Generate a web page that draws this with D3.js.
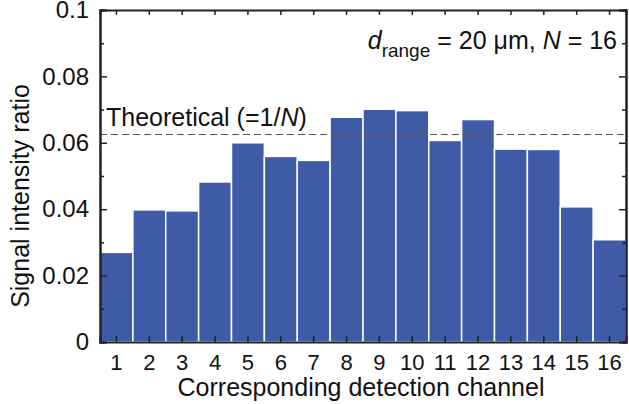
<!DOCTYPE HTML>
<html>
  <head>
    <title>Signal intensity ratio per detection channel</title>
    <style>
      html, body { margin: 0; padding: 0; background: #fff; }
      svg { display: block; font-family: "Liberation Sans", Arial, sans-serif; }
    </style>
  </head>
  <body>
    <svg width="629" height="404"></svg>
    <script src="https://d3js.org/d3.v7.min.js"></script>
    <script>
      var channels = ['1','2','3','4','5','6','7','8','9','10','11','12','13','14','15','16'];
      var ratios = [0.0270, 0.0398, 0.0395, 0.0482, 0.0600, 0.0559, 0.0547, 0.0677,
                    0.0701, 0.0697, 0.0607, 0.0670, 0.0581, 0.0580, 0.0407, 0.0308];
      var yMajor = [0, 0.02, 0.04, 0.06, 0.08, 0.1];
      var yMajorLabels = ['0', '0.02', '0.04', '0.06', '0.08', '0.1'];
      var yMinor = [0.01, 0.03, 0.05, 0.07, 0.09];
      var theoretical = 1 / 16;

      var mLeft = 100, mRight = 626, mTop = 10, mBottom = 342;
      var svg = d3.select('svg');

      var x = d3.scaleBand().domain(channels).range([ mLeft, mRight ]).padding(0);
      var y = d3.scaleLinear().domain([ 0, 0.1 ]).range([ mBottom, mTop ]);

      // bars
      svg.append('g')
        .selectAll('rect')
        .data(ratios)
        .enter()
        .append('rect')
          .attr('x', function(d, i) { return x(channels[i]); })
          .attr('y', function(d) { return y(d); })
          .attr('width', x.bandwidth())
          .attr('height', function(d) { return y(0) - y(d); })
          .attr('fill', '#3f5ba7')
          .attr('stroke', '#ffffff')
          .attr('stroke-width', 1.5);

      // theoretical line
      svg.append('line')
        .attr('x1', mLeft).attr('x2', mRight)
        .attr('y1', y(theoretical)).attr('y2', y(theoretical))
        .attr('stroke', '#555')
        .attr('stroke-width', 1.2)
        .attr('stroke-dasharray', '7,4');

      // axes with inward ticks
      var bottomAxis = d3.axisBottom(x).tickSize(-6).tickPadding(12);
      var topAxis = d3.axisTop(x).tickSize(-5).tickFormat('');
      var leftAxis = d3.axisLeft(y).tickValues(yMajor).tickSize(-7).tickPadding(11)
        .tickFormat(function(d, i) { return yMajorLabels[i]; });
      var rightAxis = d3.axisRight(y).tickValues(yMajor).tickSize(-7).tickFormat('');
      var leftMinor = d3.axisLeft(y).tickValues(yMinor).tickSize(-4).tickFormat('');
      var rightMinor = d3.axisRight(y).tickValues(yMinor).tickSize(-4).tickFormat('');

      function style(g, size) {
        g.attr('font-family', '"Liberation Sans", Arial, sans-serif');
        g.selectAll('path').attr('stroke', '#222').attr('stroke-width', 2);
        g.selectAll('line').attr('stroke', '#222').attr('stroke-width', 1.5);
        g.selectAll('text').attr('fill', '#111').style('font-size', size + 'px');
      }

      svg.append('g').attr('transform', 'translate(0,' + mBottom + ')').call(bottomAxis).call(style, 22);
      svg.append('g').attr('transform', 'translate(0,' + mTop + ')').call(topAxis).call(style, 22);
      svg.append('g').attr('transform', 'translate(' + mLeft + ',0)').call(leftAxis).call(style, 24);
      svg.append('g').attr('transform', 'translate(' + mRight + ',0)').call(rightAxis).call(style, 24);
      svg.append('g').attr('transform', 'translate(' + mLeft + ',0)').call(leftMinor).call(style, 24);
      svg.append('g').attr('transform', 'translate(' + mRight + ',0)').call(rightMinor).call(style, 24);

      // axis titles
      svg.append('text')
        .attr('x', (mLeft + mRight) / 2 - 2).attr('y', 396)
        .attr('text-anchor', 'middle')
        .style('font-size', '25px').attr('fill', '#111')
        .text('Corresponding detection channel');

      svg.append('text')
        .attr('transform', 'translate(29,' + ((mTop + mBottom) / 2 + 20) + ') rotate(-90)')
        .attr('text-anchor', 'middle')
        .style('font-size', '25px').attr('fill', '#111')
        .text('Signal intensity ratio');

      // annotations
      var th = svg.append('text')
        .attr('x', 106).attr('y', 126)
        .style('font-size', '25px').attr('fill', '#111');
      th.append('tspan').text('Theoretical (=1/');
      th.append('tspan').style('font-style', 'italic').text('N');
      th.append('tspan').text(')');

      var ann = svg.append('text')
        .attr('x', 617).attr('y', 49)
        .attr('text-anchor', 'end')
        .style('font-size', '25px').attr('fill', '#111');
      ann.append('tspan').style('font-style', 'italic').text('d');
      ann.append('tspan').attr('dy', 8).style('font-size', '19px').text('range');
      ann.append('tspan').attr('dy', -8).text(' = 20 \u03bcm, ');
      ann.append('tspan').style('font-style', 'italic').text('N');
      ann.append('tspan').text(' = 16');
    </script>
  </body>
</html>
